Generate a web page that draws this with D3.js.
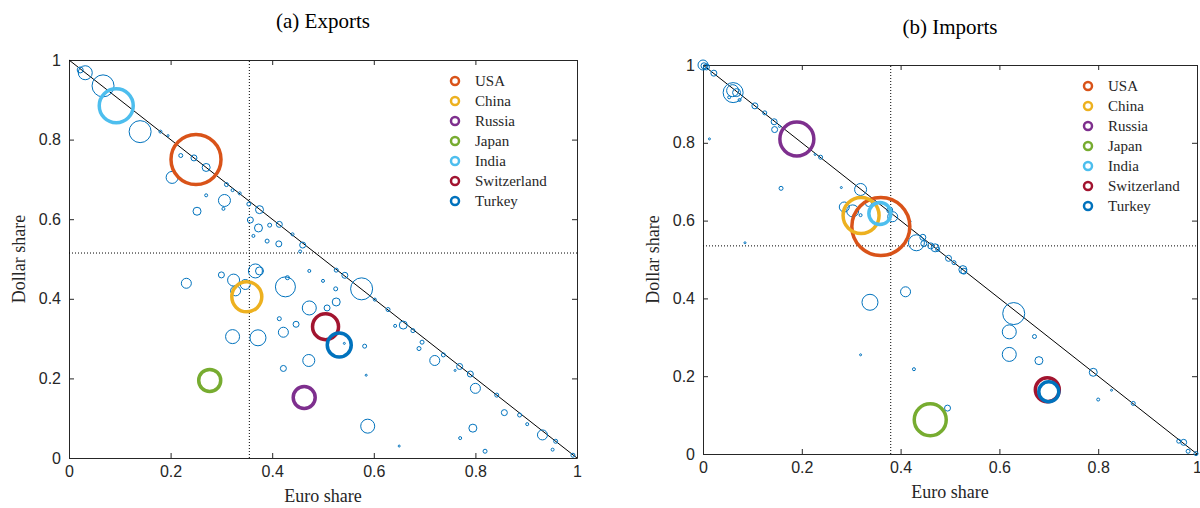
<!DOCTYPE html>
<html>
<head>
<meta charset="utf-8">
<script src="https://cdn.jsdelivr.net/npm/d3@7"></script>
<style>
  body { margin: 0; background: #fff; }
  svg { display: block; }
</style>
</head>
<body>
<svg id="chart" width="1200" height="508"></svg>
<script>
// [euro share, dollar share, radius px]
const exportsOther = [
  [0.032,0.968,7],[0.022,0.975,3],[0.067,0.935,11],[0.14,0.82,11],[0.203,0.705,6],
  [0.22,0.76,2],[0.246,0.754,3],[0.27,0.73,4],[0.27,0.66,1.5],[0.306,0.647,6],
  [0.252,0.62,4],[0.31,0.687,2],[0.322,0.673,1.5],[0.336,0.665,1.5],[0.304,0.626,1.5],
  [0.354,0.638,2],[0.375,0.624,4],[0.357,0.598,3],[0.373,0.578,4],[0.363,0.558,1.5],
  [0.395,0.585,2],[0.414,0.587,3],[0.39,0.545,2],[0.413,0.538,3],[0.46,0.535,3],
  [0.455,0.519,1.5],[0.44,0.562,1.5],[0.3,0.46,3],[0.231,0.439,5],[0.324,0.447,6],
  [0.328,0.42,5],[0.347,0.436,5],[0.367,0.47,7],[0.375,0.47,4],[0.426,0.43,10],
  [0.43,0.453,2],[0.473,0.47,1.5],[0.5,0.445,1.5],[0.526,0.472,2],[0.543,0.459,3],
  [0.576,0.425,11],[0.525,0.425,2],[0.526,0.392,4],[0.508,0.377,3],[0.473,0.377,7],
  [0.414,0.35,2],[0.447,0.336,3],[0.422,0.316,5],[0.322,0.305,7],[0.372,0.302,8],
  [0.472,0.245,6],[0.422,0.225,3],[0.542,0.288,1],[0.582,0.281,2],[0.585,0.208,1],
  [0.588,0.08,7],[0.65,0.03,1],[0.77,0.05,1.5],[0.795,0.075,4],[0.819,0.017,2],
  [0.8,0.175,5],[0.72,0.245,5],[0.689,0.275,2],[0.695,0.291,2],[0.658,0.334,4],
  [0.642,0.332,1.5],[0.677,0.32,2],[0.628,0.373,2],[0.602,0.398,1.5],[0.769,0.23,3],
  [0.79,0.211,3],[0.842,0.158,2],[0.857,0.114,3],[0.887,0.108,2],[0.902,0.085,1.5],
  [0.932,0.058,5],[0.958,0.042,2],[0.952,0.021,1.5],[0.992,0.007,2],[0.76,0.22,1],
  [0.18,0.82,1.5],[0.195,0.81,1],[0.737,0.259,2]
];
const importsOther = [
  [0,1.0,5],[0.002,0.998,3],[0.007,0.995,3],[0.022,0.979,3],[0.061,0.929,10],
  [0.06,0.934,6],[0.068,0.929,4],[0.053,0.917,1.5],[0.074,0.91,1.5],[0.105,0.895,3],
  [0.125,0.877,2],[0.144,0.854,3],[0.145,0.834,3],[0.155,0.842,1],[0.013,0.81,1],
  [0.158,0.683,2],[0.227,0.77,1],[0.238,0.763,2],[0.28,0.685,1],[0.319,0.68,6],
  [0.286,0.635,5],[0.303,0.625,6],[0.319,0.614,1.5],[0.335,0.644,3],[0.384,0.61,5],
  [0.378,0.627,3],[0.419,0.598,1],[0.432,0.543,8],[0.445,0.557,3],[0.447,0.541,3],
  [0.461,0.535,3],[0.47,0.53,4],[0.475,0.526,2],[0.497,0.503,3],[0.508,0.492,2],
  [0.526,0.474,4],[0.528,0.47,3],[0.338,0.39,8],[0.41,0.417,5],[0.629,0.361,11],
  [0.62,0.314,7],[0.62,0.256,7],[0.671,0.302,2],[0.68,0.24,4],[0.495,0.118,3],
  [0.427,0.218,1.5],[0.319,0.255,1],[0.085,0.543,1],[0.79,0.21,4],[0.8,0.14,1.5],
  [0.827,0.164,1],[0.871,0.13,2],[0.963,0.033,2],[0.973,0.03,3],[0.982,0.007,2],[0.998,0.001,2]
];
const countries = ["USA","China","Russia","Japan","India","Switzerland","Turkey"];
const countryColors = ["#D95319","#EDB120","#7E2F8E","#77AC30","#4DBEEE","#A2142F","#0072BD"];
const exportsHighlight = [[0.25,0.75,25],[0.35,0.405,15],[0.463,0.152,11],[0.277,0.195,11],[0.093,0.885,17],[0.505,0.33,13],[0.532,0.284,12]];
const importsHighlight = [[0.36,0.585,29],[0.32,0.613,18],[0.19,0.81,17],[0.46,0.088,16],[0.358,0.618,11],[0.697,0.165,12],[0.7,0.16,10]];
const ticks = [0, 0.2, 0.4, 0.6, 0.8, 1];

const svg = d3.select("#chart");
const blue = "#0072BD";

function drawPanel(o) {
  const x = d3.scaleLinear().domain([0, 1]).range([o.x0, o.x1]);
  const y = d3.scaleLinear().domain([0, 1]).range([o.y0, o.y1]);
  const g = svg.append("g");
  const fmt = d => d === 0 || d === 1 ? d3.format("d")(d) : d3.format(".1f")(d);

  // axes with inward ticks
  const ax = (gen, tr) => g.append("g").attr("transform", tr).call(gen)
    .call(s => s.select(".domain").attr("stroke", "#262626"))
    .call(s => s.selectAll("line").attr("stroke", "#262626"))
    .call(s => s.selectAll("text").attr("font-family", "Liberation Sans, Arial").attr("font-size", 16).attr("fill", "#262626"));
  ax(d3.axisBottom(x).tickValues(ticks).tickFormat(fmt).tickSizeInner(-5).tickSizeOuter(0).tickPadding(8), `translate(0,${o.y0})`);
  ax(d3.axisLeft(y).tickValues(ticks).tickFormat(fmt).tickSizeInner(-5).tickSizeOuter(0).tickPadding(8), `translate(${o.x0},0)`);
  ax(d3.axisTop(x).tickValues(ticks).tickFormat("").tickSizeInner(-5).tickSizeOuter(0), `translate(0,${o.y1})`);
  ax(d3.axisRight(y).tickValues(ticks).tickFormat("").tickSizeInner(-5).tickSizeOuter(0), `translate(${o.x1},0)`);

  // median lines
  g.append("line").attr("x1", x(o.mx)).attr("x2", x(o.mx)).attr("y1", y(0)).attr("y2", y(1))
    .attr("stroke", "#000").attr("stroke-width", 1).attr("stroke-dasharray", "1,2");
  g.append("line").attr("x1", x(0)).attr("x2", x(1)).attr("y1", y(o.my)).attr("y2", y(o.my))
    .attr("stroke", "#000").attr("stroke-width", 1).attr("stroke-dasharray", "1,2");
  // diagonal
  g.append("line").attr("x1", x(0)).attr("y1", y(1)).attr("x2", x(1)).attr("y2", y(0))
    .attr("stroke", "#000").attr("stroke-width", 1);

  g.selectAll(".pt").data(o.other).join("circle")
    .attr("cx", d => x(d[0])).attr("cy", d => y(d[1])).attr("r", d => d[2])
    .attr("fill", "none").attr("stroke", blue).attr("stroke-width", 1);

  g.selectAll(".hl").data(o.hl).join("circle")
    .attr("cx", d => x(d[0])).attr("cy", d => y(d[1])).attr("r", d => d[2])
    .attr("fill", "none").attr("stroke", (d, i) => countryColors[i]).attr("stroke-width", 3.5);

  // legend
  const lg = g.append("g").attr("transform", `translate(${o.lx},${o.ly})`);
  countries.forEach((c, i) => {
    lg.append("circle").attr("cx", 0).attr("cy", i * 20).attr("r", 4)
      .attr("fill", "none").attr("stroke", countryColors[i]).attr("stroke-width", 2.5);
    lg.append("text").attr("x", 20).attr("y", i * 20 + 5).text(c)
      .attr("font-family", "Liberation Serif, serif").attr("font-size", 15).attr("fill", "#262626");
  });

  svg.append("text").attr("x", (o.x0 + o.x1) / 2).attr("y", o.ty).attr("text-anchor", "middle")
    .attr("font-family", "Liberation Serif, serif").attr("font-size", 21).text(o.title);
  svg.append("text").attr("x", (o.x0 + o.x1) / 2).attr("y", o.y0 + 44).attr("text-anchor", "middle")
    .attr("font-family", "Liberation Serif, serif").attr("font-size", 18).attr("fill", "#262626").text("Euro share");
  svg.append("text").attr("transform", `translate(${o.x0 - 44},${(o.y0 + o.y1) / 2}) rotate(-90)`)
    .attr("text-anchor", "middle").attr("font-family", "Liberation Serif, serif").attr("font-size", 18)
    .attr("fill", "#262626").text("Dollar share");
}

drawPanel({ x0: 69, x1: 577, y0: 458, y1: 60, mx: 0.355, my: 0.515, other: exportsOther, hl: exportsHighlight,
  lx: 455, ly: 81, title: "(a) Exports", ty: 28 });
drawPanel({ x0: 703, x1: 1197, y0: 454, y1: 65, mx: 0.38, my: 0.535, other: importsOther, hl: importsHighlight,
  lx: 1088, ly: 86, title: "(b) Imports", ty: 34 });
</script>
</body>
</html>
